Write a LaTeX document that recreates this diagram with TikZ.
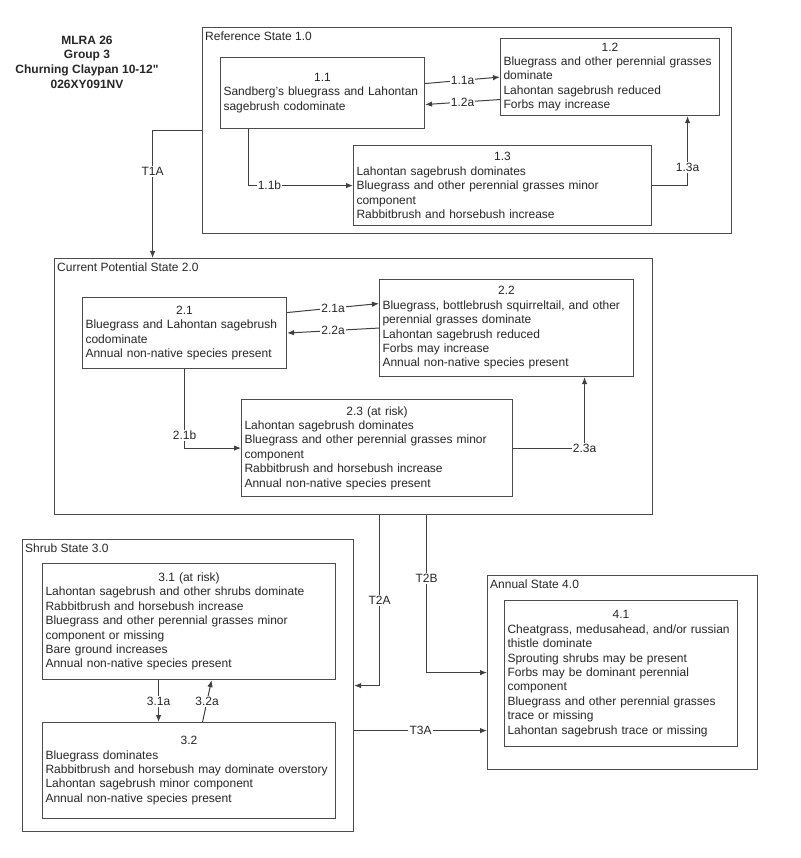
\documentclass[tikz,border=0pt]{standalone}
\usepackage{fontspec}
\setmainfont{Liberation Sans}
\newfontfamily\headfont{Liberation Sans}
\usetikzlibrary{arrows.meta}
\newcommand{\boxtitle}[1]{\makebox[\linewidth]{#1}\\}
\tikzset{
  statebox/.style={draw=black!70,line width=1.2pt,anchor=north west,inner sep=0pt},
  phase/.style={draw=black!70,line width=1.1pt,anchor=north west,inner xsep=3pt,inner ysep=1pt,align=left,font=\fontsize{12}{14.4}\selectfont,text=black!85},
  statelabel/.style={anchor=north west,inner xsep=3pt,inner ysep=4.5pt,font=\fontsize{12}{14.4}\selectfont,text=black!85},
  link/.style={draw=black!75,line width=1pt,-{Latex[length=7pt,width=5.5pt]}},
  linklabel/.style={fill=white,inner sep=1.2pt,font=\fontsize{12}{14.4}\selectfont,text=black!85}
}
\begin{document}
\begin{tikzpicture}[x=1pt,y=-1pt]
\useasboundingbox (0,0) rectangle (800,858);
\node[font=\headfont\bfseries\fontsize{12}{14.6}\selectfont,align=center,text=black!85] (title) at (87,62) {MLRA 26\\Group 3\\Churning Claypan 10-12"\\026XY091NV};

\node[statebox,minimum width=529pt,minimum height=206pt] (st1) at (202,27) {};
\node[statebox,minimum width=598pt,minimum height=256pt] (st2) at (54,258) {};
\node[statebox,minimum width=331pt,minimum height=292pt] (st3) at (22,539) {};
\node[statebox,minimum width=270pt,minimum height=194pt] (st4) at (487,575) {};
\node[statelabel] (l1) at (st1.north west) {Reference State 1.0};
\node[statelabel] (l2) at (st2.north west) {Current Potential State 2.0};
\node[statelabel] (l3) at (st3.north west) {Shrub State 3.0};
\node[statelabel] (l4) at (st4.north west) {Annual State 4.0};

\node[phase,minimum height=71pt,text width=198pt] (s11) at (220,57) {\boxtitle{1.1}Sandberg's bluegrass and Lahontan\\sagebrush codominate};
\node[phase,minimum height=77pt,text width=213pt] (s12) at (500,38) {\boxtitle{1.2}Bluegrass and other perennial grasses\\dominate\\Lahontan sagebrush reduced\\Forbs may increase};
\node[phase,minimum height=80pt,text width=292pt] (s13) at (353,145) {\boxtitle{1.3}Lahontan sagebrush dominates\\Bluegrass and other perennial grasses minor\\component\\Rabbitbrush and horsebush increase};
\node[phase,minimum height=71pt,text width=198pt] (s21) at (82,297) {\boxtitle{2.1}Bluegrass and Lahontan sagebrush\\codominate\\Annual non-native species present};
\node[phase,minimum height=97pt,text width=248pt] (s22) at (379,279) {\boxtitle{2.2}Bluegrass, bottlebrush squirreltail, and other\\perennial grasses dominate\\Lahontan sagebrush reduced\\Forbs may increase\\Annual non-native species present};
\node[phase,minimum height=97pt,text width=265pt] (s23) at (241,399) {\boxtitle{2.3 (at risk)}Lahontan sagebrush dominates\\Bluegrass and other perennial grasses minor\\component\\Rabbitbrush and horsebush increase\\Annual non-native species present};
\node[phase,minimum height=116pt,text width=287pt] (s31) at (42,563) {\boxtitle{3.1 (at risk)}Lahontan sagebrush and other shrubs dominate\\Rabbitbrush and horsebush increase\\Bluegrass and other perennial grasses minor\\component or missing\\Bare ground increases\\Annual non-native species present};
\node[phase,minimum height=96pt,text width=287pt] (s32) at (42,722) {\boxtitle{3.2}Bluegrass dominates\\Rabbitbrush and horsebush may dominate overstory\\Lahontan sagebrush minor component\\Annual non-native species present};
\node[phase,minimum height=146pt,text width=227pt] (s41) at (504,600) {\boxtitle{4.1}Cheatgrass, medusahead, and/or russian\\thistle dominate\\Sprouting shrubs may be present\\Forbs may be dominant perennial\\component\\Bluegrass and other perennial grasses\\trace or missing\\Lahontan sagebrush trace or missing};

\draw[link] ([yshift=9.5pt]s11.east) -- node[linklabel]{1.1a} (s12.west);
\draw[link] ([yshift=-22.5pt]s12.west) -- node[linklabel]{1.2a} ([yshift=-11.5pt]s11.east);
\draw[link] ([xshift=-74pt]s11.south) |- node[linklabel,pos=0.6]{1.1b} (s13.west);
\draw[link] (s13.east) -| node[linklabel,pos=0.63]{1.3a} ([xshift=77.5pt]s12.south);
\draw[link] (st1.west) -| node[linklabel,pos=0.66]{T1A} ([xshift=-201pt]st2.north);
\draw[link] ([yshift=20.5pt]s21.east) -- node[linklabel]{2.1a} ([yshift=24.5pt]s22.west);
\draw[link] (s22.west) -- node[linklabel]{2.2a} (s21.east);
\draw[link] (s21.south) |- node[linklabel,pos=0.42]{2.1b} (s23.west);
\draw[link] (s23.east) -| node[linklabel]{2.3a} ([xshift=78pt]s22.south);
\draw[link] ([xshift=26pt]st2.south) |- node[linklabel,pos=0.25]{T2A} (st3.east);
\draw[link] ([xshift=73pt]st2.south) |- node[linklabel,pos=0.2]{T2B} (st4.west);
\draw[link] ([yshift=-45pt]st3.east) -- node[linklabel]{T3A} ([yshift=-58pt]st4.west);
\draw[link] ([xshift=-30.5pt]s31.south) -- node[linklabel]{3.1a} ([xshift=-30.5pt]s32.north);
\draw[link] ([xshift=13.5pt]s32.north) -- node[linklabel]{3.2a} ([xshift=22.5pt]s31.south);
\end{tikzpicture}
\end{document}
